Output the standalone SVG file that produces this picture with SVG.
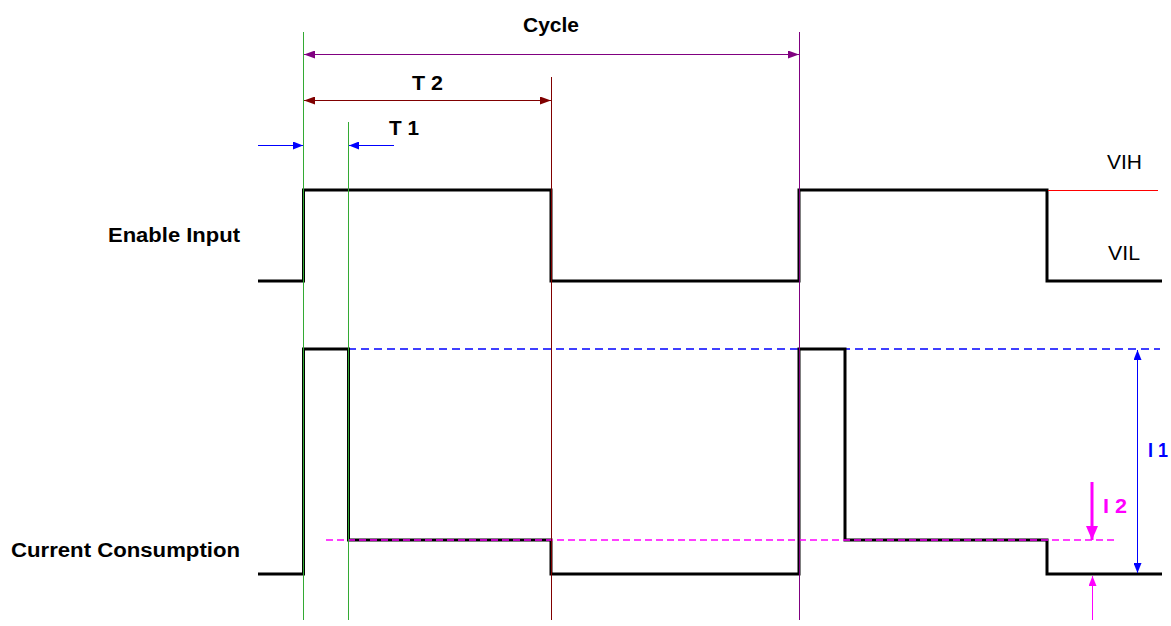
<svg xmlns="http://www.w3.org/2000/svg" width="1171" height="626" viewBox="0 0 1171 626">
<style>
.wave{fill:none;stroke:#000;stroke-width:3;stroke-linejoin:miter}
.lbl{font-family:"Liberation Sans",Arial,sans-serif;font-weight:bold;font-size:20px;fill:#000}
.lvl{font-family:"Liberation Sans",Arial,sans-serif;font-size:20px;fill:#000}
.thin{fill:none;stroke-width:1}
</style>
<defs>
<marker id="aPurple" viewBox="0 0 11 8" refX="11" refY="4" markerWidth="11" markerHeight="8" markerUnits="userSpaceOnUse" orient="auto-start-reverse"><path d="M0,0 L11,4 L0,8 Z" fill="#800080"/></marker>
<marker id="aRed" viewBox="0 0 11 8" refX="11" refY="4" markerWidth="11" markerHeight="8" markerUnits="userSpaceOnUse" orient="auto-start-reverse"><path d="M0,0 L11,4 L0,8 Z" fill="#800000"/></marker>
<marker id="aBlue" viewBox="0 0 10 8" refX="10" refY="4" markerWidth="10" markerHeight="8" markerUnits="userSpaceOnUse" orient="auto-start-reverse"><path d="M0,0 L10,4 L0,8 Z" fill="#0000ff"/></marker>
<marker id="aMag" viewBox="0 0 10 8" refX="10" refY="4" markerWidth="10" markerHeight="8" markerUnits="userSpaceOnUse" orient="auto-start-reverse"><path d="M0,0 L10,4 L0,8 Z" fill="#ff00ff"/></marker>
<marker id="aMagBig" viewBox="0 0 14 12" refX="14" refY="6" markerWidth="14" markerHeight="12" markerUnits="userSpaceOnUse" orient="auto"><path d="M0,0 L14,6 L0,12 Z" fill="#ff00ff"/></marker>
</defs>

<g id="labels">
<text class="lbl" x="240" y="242" text-anchor="end" textLength="132" lengthAdjust="spacingAndGlyphs">Enable Input</text>
<text class="lbl" x="240" y="557" text-anchor="end" textLength="229" lengthAdjust="spacingAndGlyphs">Current Consumption</text>
<text class="lbl" x="523" y="32" textLength="56" lengthAdjust="spacingAndGlyphs">Cycle</text>
<text class="lbl" x="412" y="90" textLength="31" lengthAdjust="spacingAndGlyphs">T 2</text>
<text class="lbl" x="389" y="135" textLength="30" lengthAdjust="spacingAndGlyphs">T 1</text>
<text class="lvl" x="1107" y="169" textLength="35" lengthAdjust="spacingAndGlyphs">VIH</text>
<text class="lvl" x="1108" y="260" textLength="32" lengthAdjust="spacingAndGlyphs">VIL</text>
<text class="lbl" x="1148" y="457" style="fill:#0000ff" textLength="20" lengthAdjust="spacingAndGlyphs">I 1</text>
<text class="lbl" x="1103" y="513" style="fill:#ff00ff" textLength="24" lengthAdjust="spacingAndGlyphs">I 2</text>
</g>

<g id="levels">
<line x1="348" y1="349" x2="1160" y2="349" stroke="#0000ff" stroke-width="1.5" stroke-dasharray="8,5"/>
</g>

<g id="enable-input">
<polyline class="wave" points="258,281 303.5,281 303.5,190 551,190 551,281 799,281 799,190 1047,190 1047,281 1162,281"/>
<line x1="1048" y1="190.5" x2="1158" y2="190.5" stroke="#ff0000" stroke-width="1"/>
</g>

<g id="current-consumption">
<polyline class="wave" points="258,574 303.5,574 303.5,349 348.5,349 348.5,540 551,540 551,574 799,574 799,349 845,349 845,540 1047,540 1047,574 1162,574"/>
</g>

<g id="connectors">
<line x1="326" y1="540" x2="1117" y2="540" stroke="#ff00ff" stroke-width="1.5" stroke-dasharray="7,4"/>
<line class="thin" x1="303.5" y1="32" x2="303.5" y2="620" stroke="#33aa33"/>
<line class="thin" x1="348.5" y1="122" x2="348.5" y2="620" stroke="#33aa33"/>
<line class="thin" x1="551.5" y1="77" x2="551.5" y2="620" stroke="#800000"/>
<line class="thin" x1="799.5" y1="32" x2="799.5" y2="620" stroke="#800080"/>
<line class="thin" x1="304" y1="54.5" x2="799" y2="54.5" stroke="#800080" marker-start="url(#aPurple)" marker-end="url(#aPurple)"/>
<line class="thin" x1="304" y1="100.5" x2="551" y2="100.5" stroke="#800000" marker-start="url(#aRed)" marker-end="url(#aRed)"/>
<line class="thin" x1="258" y1="145.5" x2="303" y2="145.5" stroke="#0000ff" marker-end="url(#aBlue)"/>
<line class="thin" x1="394" y1="145.5" x2="349" y2="145.5" stroke="#0000ff" marker-end="url(#aBlue)"/>
<line class="thin" x1="1137.5" y1="350" x2="1137.5" y2="573" stroke="#0000ff" marker-start="url(#aBlue)" marker-end="url(#aBlue)"/>
<line x1="1092" y1="482" x2="1092" y2="540" stroke="#ff00ff" stroke-width="3" marker-end="url(#aMagBig)"/>
<line class="thin" x1="1092.5" y1="620" x2="1092.5" y2="576" stroke="#ff00ff" marker-end="url(#aMag)"/>
</g>
</svg>
